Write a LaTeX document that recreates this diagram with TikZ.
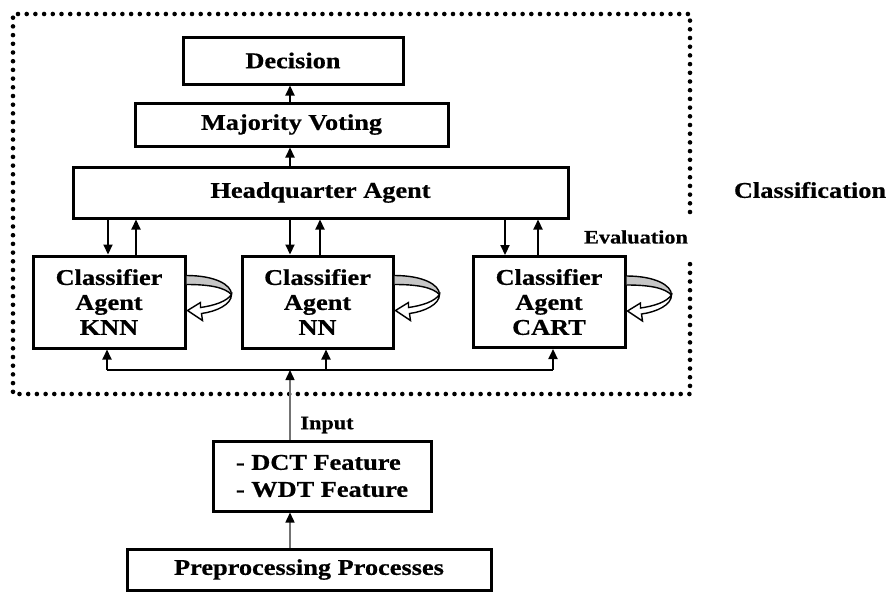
\documentclass[tikz,border=0pt]{standalone}
\usepackage{fontspec}
\setmainfont{Liberation Serif}[FakeStretch=1.17, BoldFeatures={FakeBold=0.6}]
\usetikzlibrary{arrows.meta,calc}
\tikzset{
  box/.style={draw=black, line width=3pt, rectangle, inner sep=0pt, align=center,
              font=\bfseries\fontsize{22.5}{25}\selectfont},
  lbl/.style={inner sep=0pt, font=\bfseries\fontsize{22.5}{25}\selectfont},
  slbl/.style={inner sep=0pt, font=\bfseries\fontsize{19}{22}\selectfont},
  arr/.style={line width=2.2pt, -{Triangle[length=10pt,width=9pt]}},
  garr/.style={line width=1.4pt, draw=black!55, -{Triangle[length=10pt,width=9pt,color=black]}},
  bus/.style={line width=2.2pt},
  dotborder/.style={line width=4.6pt, line cap=round, dash pattern=on 0pt off 8.7pt},
  loopy/.pic={
    \fill[gray!45] (0,21) .. controls (28,21) and (45,30) .. (45,40)
                   .. controls (38,33) and (24,30) .. (0,30) -- cycle;
    \draw[line width=1.4pt] (0,21) .. controls (28,21) and (45,30) .. (45,40);
    \draw[line width=1.4pt] (0,30) .. controls (24,30) and (38,33) .. (45,40);
    \draw[line width=1.4pt, fill=white, line join=miter]
      (45,40) .. controls (45,50) and (30,57) .. (15,59) -- (16,66) -- (1,56) -- (14,48) -- (14,53)
      .. controls (28,51) and (40,47) .. (45,40) -- cycle;
  }
}
\begin{document}
\begin{tikzpicture}[x=1pt,y=-1pt]
\useasboundingbox (0,0) rectangle (891,592);

% dotted classification border with gap on the right
\draw[dotborder] (690,212) -- (690,14) -- (13,14) -- (13,394) -- (690,394) -- (690,256);

% boxes
\node[box, minimum width=220pt, minimum height=47pt] (dec) at (293,60.5) {Decision};
\node[box, minimum width=313pt, minimum height=43pt] (maj) at (291.5,124.5) {Majority Voting};
\node[box, minimum width=495pt, minimum height=51pt] (hq) at (320.5,192.5) {Headquarter Agent};
\node[box, minimum width=152pt, minimum height=92pt] (knn) at (109,302) {Classifier\\Agent\\KNN};
\node[box, minimum width=151pt, minimum height=92pt] (nn) at (317.5,302) {Classifier\\Agent\\NN};
\node[box, minimum width=152pt, minimum height=91pt] (cart) at (549,302) {Classifier\\Agent\\CART};
\node[box, minimum width=218pt, minimum height=70pt, align=left, font=\bfseries\fontsize{22.5}{27}\selectfont] (dct) at (322,476) {- DCT Feature\\- WDT Feature};
\node[box, minimum width=364pt, minimum height=41pt] (prep) at (309,569.5) {Preprocessing Processes};

% labels
\node[lbl] (cls) at (810,190) {Classification};
\node[slbl] (eval) at (636,237) {Evaluation};
\node[slbl] (inp) at (327,425) {Input};

% vertical arrows upper part
\draw[arr] ($(maj.north)+(-1.5,0)$) -- ($(dec.south)+(-3,0)$);
\draw[arr] ($(hq.north)+(-30.5,0)$) -- ($(maj.south)+(-1.5,0)$);

% HQ <-> classifiers
\draw[arr] ($(knn.north |- hq.south)+(-1,0)$) -- ($(knn.north)+(-1,0)$);
\draw[arr] ($(knn.north)+(27,0)$) -- ($(knn.north |- hq.south)+(27,0)$);
\draw[arr] ($(nn.north |- hq.south)+(-27.5,0)$) -- ($(nn.north)+(-27.5,0)$);
\draw[arr] ($(nn.north)+(2.5,0)$) -- ($(nn.north |- hq.south)+(2.5,0)$);
\draw[arr] ($(cart.north |- hq.south)+(-44,0)$) -- ($(cart.north)+(-44,0)$);
\draw[arr] ($(cart.north)+(-11,0)$) -- ($(cart.north |- hq.south)+(-11,0)$);

% self-evaluation loops
\pic at (knn.north east) {loopy};
\pic at (nn.north east) {loopy};
\pic at (cart.north east) {loopy};

% input bus
\coordinate (b1) at (107,370);
\coordinate (b2) at (326,370);
\coordinate (b3) at (553,370);
\coordinate (bin) at (290,370);
\draw[bus] (b1) -- (b3);
\draw[arr] (b1) -- (b1 |- knn.south);
\draw[arr] (b2) -- (b2 |- nn.south);
\draw[arr] (b3) -- (b3 |- cart.south);
\draw[garr] (bin |- dct.north) -- (bin);
\draw[garr] ($(prep.north)+(-19,0)$) -- ($(prep.north |- dct.south)+(-19,0)$);
\end{tikzpicture}
\end{document}
